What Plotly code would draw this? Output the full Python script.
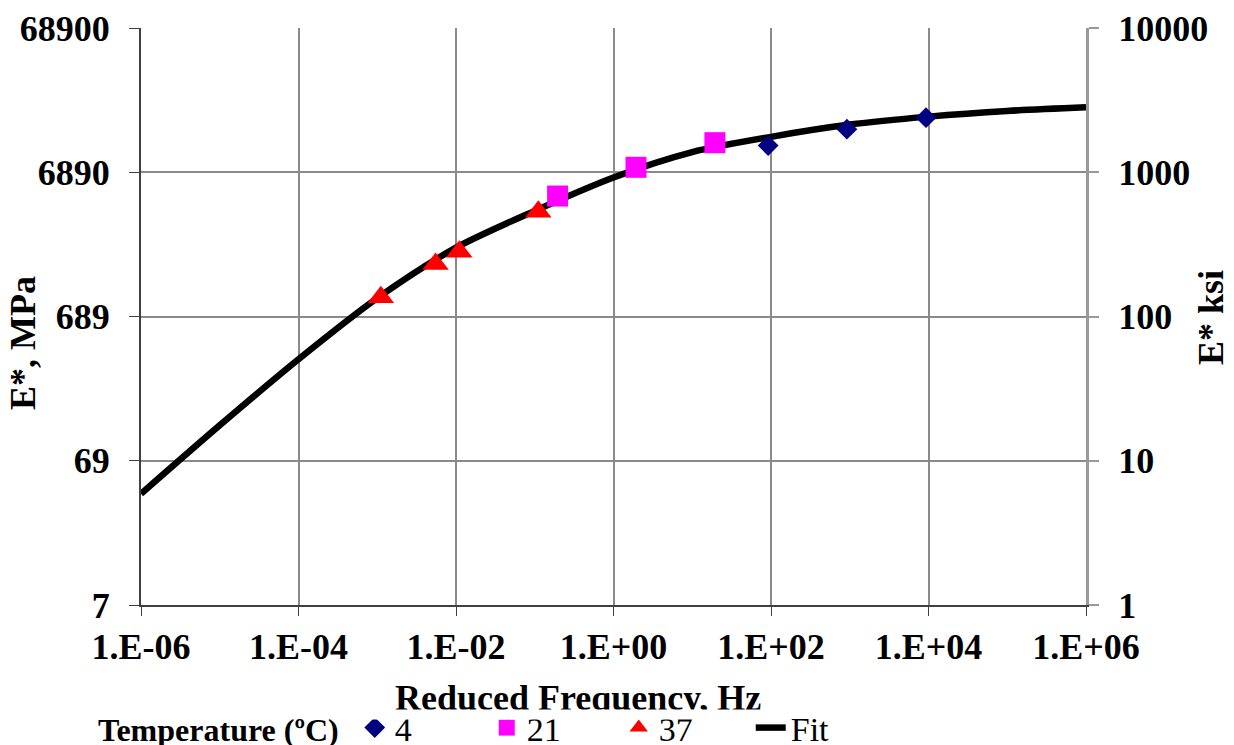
import plotly.graph_objects as go

# Master curve fit (reduced frequency in Hz, |E*| in ksi)
fit_freq = [1e-6, 1e-5, 1e-4, 1e-3, 1e-2, 1e-1, 1e0, 1e1, 1e2, 1e3, 1e4, 1e5, 1e6]
fit_ksi = [5.9, 17.6, 50.5, 134, 300, 540, 920, 1380, 1760, 2140, 2430, 2660, 2820]

# Shifted test data by temperature
t4_freq = [92, 920, 9300]
t4_ksi = [1530, 1990, 2390]
t21_freq = [0.195, 1.93, 19.4]
t21_ksi = [684, 1082, 1603]
t37_freq = [0.00111, 0.0055, 0.011, 0.111]
t37_ksi = [136, 231, 281, 533]

x_tickvals = [1e-6, 1e-4, 1e-2, 1e0, 1e2, 1e4, 1e6]
x_ticktext = ["1.E-06", "1.E-04", "1.E-02", "1.E+00", "1.E+02", "1.E+04", "1.E+06"]
y_tickvals = [1, 10, 100, 1000, 10000]
mpa_ticktext = ["7", "69", "689", "6890", "68900"]
ksi_ticktext = ["1", "10", "100", "1000", "10000"]

FONT = "Liberation Serif"
W, H = 1234, 745
L, R, T, B = 141, 1086, 28, 605


def px_x(x):
    return (x - L) / (R - L)


def px_y(y):
    return (B - y) / (B - T)


fig = go.Figure()

fig.add_trace(go.Scatter(
    x=fit_freq, y=fit_ksi, mode="lines", name="Fit",
    line=dict(color="black", width=6.5, shape="spline", smoothing=0.8),
    yaxis="y", legendrank=4,
))
fig.add_trace(go.Scatter(
    x=t4_freq, y=t4_ksi, mode="markers", name="4",
    marker=dict(symbol="diamond", size=16, color="#000080"),
    yaxis="y2", legendrank=1,
))
fig.add_trace(go.Scatter(
    x=t21_freq, y=t21_ksi, mode="markers", name="21",
    marker=dict(symbol="square", size=21, color="#FF00FF"),
    yaxis="y2", legendrank=2,
))
fig.add_trace(go.Scatter(
    x=t37_freq, y=t37_ksi, mode="markers", name="37",
    marker=dict(symbol="triangle-up", size=23, color="#FF0000"),
    yaxis="y2", legendrank=3,
))

tickfont = dict(family=FONT, size=36, color="black", weight="bold")
titlefont = dict(family=FONT, size=36, color="black", weight="bold")

fig.update_layout(
    width=W, height=H,
    margin=dict(l=L, r=W - R, t=T, b=H - B, autoexpand=False),
    paper_bgcolor="white", plot_bgcolor="white",
    showlegend=True,
    xaxis=dict(
        type="log", range=[-6, 6],
        tickvals=x_tickvals, ticktext=x_ticktext,
        tickfont=tickfont,
        showgrid=True, gridcolor="#8a8a8a", gridwidth=2,
        showline=True, linecolor="#404040", linewidth=2,
        ticks="outside", ticklen=9, tickcolor="#404040", tickwidth=1,
        zeroline=False,
    ),
    yaxis=dict(
        type="log", range=[0, 4],
        tickvals=y_tickvals, ticktext=mpa_ticktext,
        tickfont=tickfont,
        showgrid=True, gridcolor="#8a8a8a", gridwidth=2,
        showline=True, linecolor="#404040", linewidth=2,
        ticks="outside", ticklen=10, tickcolor="#404040", tickwidth=1,
        ticklabelstandoff=12,
        zeroline=False,
    ),
    yaxis2=dict(
        type="log", range=[0, 4], overlaying="y", side="right",
        tickvals=y_tickvals, ticktext=ksi_ticktext,
        tickfont=tickfont,
        showgrid=False,
        showline=True, linecolor="#999999", linewidth=3,
        ticks="outside", ticklen=10, tickcolor="#999999", tickwidth=2,
        ticklabelstandoff=12,
        zeroline=False,
    ),
    legend=dict(
        orientation="h",
        x=px_x(96), xanchor="left",
        y=px_y(699), yanchor="top",
        bgcolor="rgba(0,0,0,0)",
        font=dict(family=FONT, size=34, color="black"),
        title=dict(text="Temperature (ºC)\u00a0", side="left",
                   font=dict(family=FONT, size=32, color="black", weight="bold")),
        entrywidth=87,
        itemsizing="trace",
        tracegroupgap=0,
    ),
    annotations=[
        dict(text="Reduced Frequency, Hz", xref="paper", yref="paper",
             x=px_x(578), y=px_y(698),
             xanchor="center", yanchor="middle", showarrow=False,
             font=titlefont),
        # white band trimming the descenders of the axis title above the legend
        dict(text=" ", xref="paper", yref="paper",
             x=px_x(578), y=px_y(709), xanchor="center", yanchor="top",
             width=420, height=9, borderpad=0, bgcolor="white",
             showarrow=False, font=dict(size=4)),
        dict(text="E*, MPa", xref="paper", yref="paper",
             x=px_x(23), y=px_y(343),
             xanchor="center", yanchor="middle", showarrow=False, textangle=-90,
             font=titlefont),
        dict(text="E* ksi", xref="paper", yref="paper",
             x=px_x(1211), y=px_y(318),
             xanchor="center", yanchor="middle", showarrow=False, textangle=-90,
             font=titlefont),
    ],
)

fig.write_html("out.html")
